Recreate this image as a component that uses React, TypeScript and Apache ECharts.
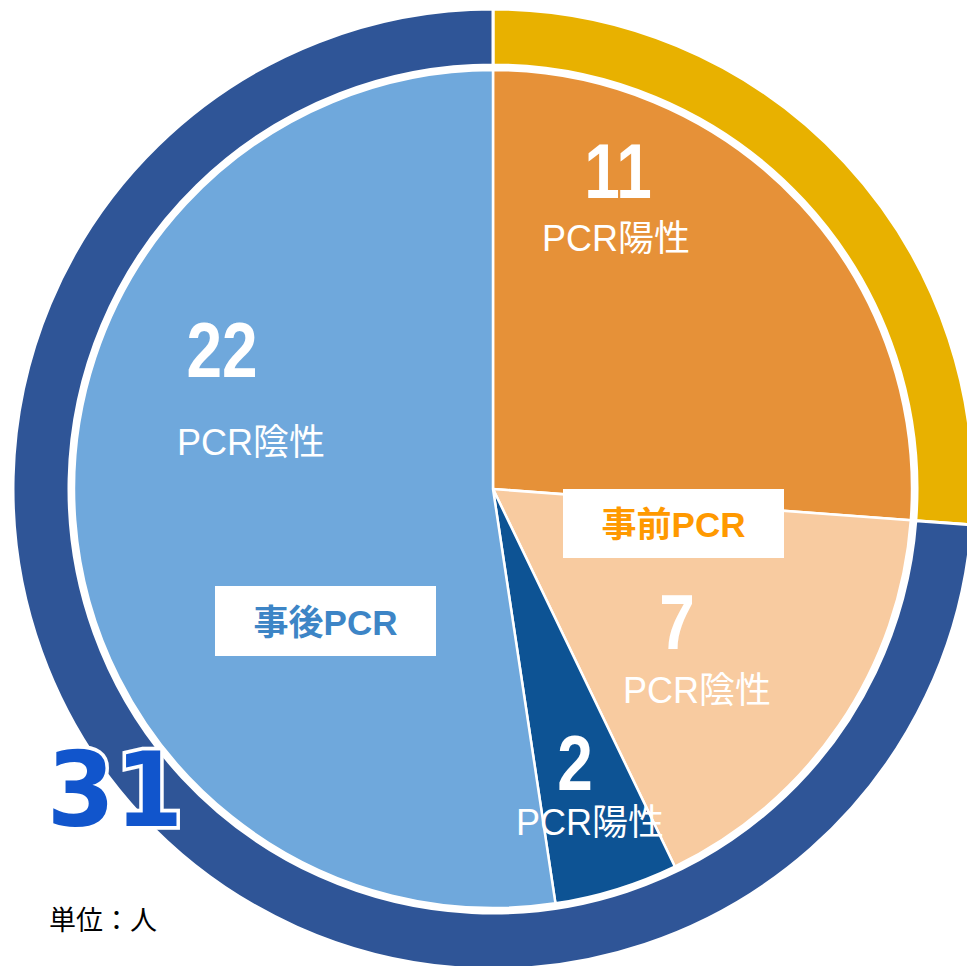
import React, { useEffect, useRef } from "react";
import * as echarts from "echarts";

const innerCategories = ["事前PCR陽性", "事前PCR陰性", "事後PCR陽性", "事後PCR陰性"];
const innerValues = [11, 7, 2, 22];
const innerLabels = ["PCR陽性", "PCR陰性", "PCR陽性", "PCR陰性"];
const outerCategories = ["事前PCR", "事後PCR"];
const outerValues = [11, 31];
const unitLabel = "単位：人";

const innerColors = ["#E69138", "#F8CBA0", "#0D5394", "#6FA8DC"];
const outerColors = ["#E8B100", "#2F5597"];

export default function App() {
  const ref = useRef<HTMLDivElement>(null);
  useEffect(() => {
    if (!ref.current) return;
    const chart = echarts.init(ref.current, null, { renderer: "svg" });
    const cx = 493;
    const cy = 489;
    const numPos = [
      [618, 171],
      [677, 622],
      [575, 763],
      [222, 350],
    ];
    const lblPos = [
      [616, 238],
      [697, 690],
      [590, 822],
      [251, 442],
    ];
    const txtFont = "'Liberation Sans', 'Noto Sans CJK JP', sans-serif";
    const graphics: any[] = [];
    innerValues.forEach((v, i) => {
      graphics.push({
        type: "text",
        x: numPos[i][0],
        y: numPos[i][1],
        scaleX: 0.82,
        z: 10,
        style: {
          text: String(v),
          fill: "#fff",
          font: "bold 78px 'Liberation Sans', sans-serif",
          align: "center",
          verticalAlign: "middle",
        },
      });
      graphics.push({
        type: "text",
        x: lblPos[i][0],
        y: lblPos[i][1],
        z: 10,
        style: {
          text: innerLabels[i],
          fill: "#fff",
          font: `36px ${txtFont}`,
          align: "center",
          verticalAlign: "middle",
        },
      });
    });
    const boxes = [
      { x: 563, y: 489, w: 221, h: 69, color: "#FF9900", text: outerCategories[0] },
      { x: 215, y: 586, w: 221, h: 70, color: "#3D85C6", text: outerCategories[1] },
    ];
    boxes.forEach((b) => {
      graphics.push({
        type: "rect",
        z: 10,
        shape: { x: b.x, y: b.y, width: b.w, height: b.h },
        style: { fill: "#fff" },
      });
      graphics.push({
        type: "text",
        z: 11,
        x: b.x + b.w / 2,
        y: b.y + b.h / 2 + 1,
        style: {
          text: b.text,
          fill: b.color,
          font: `bold 35px ${txtFont}`,
          align: "center",
          verticalAlign: "middle",
        },
      });
    });
    graphics.push({
      type: "text",
      z: 12,
      x: 115,
      y: 791,
      scaleY: 1.05,
      style: {
        text: String(outerValues[1]),
        fill: "#1155CC",
        stroke: "#fff",
        lineWidth: 7,
        font: "bold 98px 'DejaVu Sans', sans-serif",
        align: "center",
        verticalAlign: "middle",
        shadowColor: "rgba(0,0,0,0.25)",
        shadowBlur: 3,
      },
    });
    graphics.push({
      type: "text",
      z: 12,
      x: 49,
      y: 918,
      style: {
        text: unitLabel,
        fill: "#000",
        font: `27px 'Noto Sans CJK JP', sans-serif`,
        align: "left",
        verticalAlign: "middle",
      },
    });

    chart.setOption({
      animation: false,
      backgroundColor: "#fff",
      series: [
        {
          type: "pie",
          center: [cx, cy],
          radius: [0, 419],
          startAngle: 90,
          clockwise: true,
          label: { show: false },
          labelLine: { show: false },
          emphasis: { disabled: true },
          itemStyle: { borderColor: "#fff", borderWidth: 2.5 },
          data: innerCategories.map((c, i) => ({
            name: c,
            value: innerValues[i],
            itemStyle: { color: innerColors[i] },
          })),
        },
        {
          type: "pie",
          center: [cx, cy],
          radius: [424, 480],
          startAngle: 90,
          clockwise: true,
          label: { show: false },
          labelLine: { show: false },
          emphasis: { disabled: true },
          itemStyle: { borderColor: "#fff", borderWidth: 3 },
          data: outerCategories.map((c, i) => ({
            name: c,
            value: outerValues[i],
            itemStyle: { color: outerColors[i] },
          })),
        },
      ],
      graphic: graphics,
    });
    return () => chart.dispose();
  }, []);
  return (
    <div
      ref={ref}
      style={{ position: "absolute", left: 0, top: 0, width: 967, height: 966 }}
    />
  );
}
